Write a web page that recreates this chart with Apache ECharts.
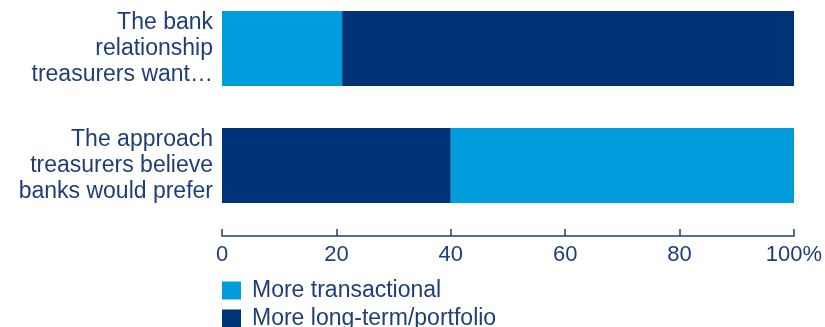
<!DOCTYPE html>
<html>
<head>
<meta charset="utf-8">
<style>
  html, body { margin: 0; padding: 0; background: #ffffff; }
  #chart { width: 825px; height: 327px; }
</style>
<script src="https://cdn.jsdelivr.net/npm/echarts@6/dist/echarts.min.js"></script>
</head>
<body>
<div id="chart"></div>
<script>
// Survey rows, top to bottom
const categories = [
  'The bank\nrelationship\ntreasurers want\u2026',
  'The approach\ntreasurers believe\nbanks would prefer'
];
// Share of respondents (%) per row
const transactional = [21, 60];
const longTerm = [79, 40];
// Segment order differs per row: first row starts with transactional,
// second row starts with long-term/portfolio.
const transactionalLead = [transactional[0], 0];
const transactionalTrail = [0, transactional[1]];
const tickValues = [0, 20, 40, 60, 80, 100];
const legendNames = ['More transactional', 'More long-term/portfolio'];

const LIGHT = '#009ddc';
const DARK = '#003478';
const INK = '#1f3e78';
const FONT = '"Liberation Sans", Arial, Helvetica, sans-serif';

const chart = echarts.init(document.getElementById('chart'), null, { renderer: 'canvas' });

const legendBase = {
  orient: 'vertical',
  left: 222,
  padding: 0,
  itemWidth: 19,
  itemHeight: 18,
  icon: 'rect',
  textStyle: { color: INK, fontSize: 23, fontFamily: FONT, padding: [0, 0, 0, 6] }
};

chart.setOption({
  animation: false,
  textStyle: { fontFamily: FONT },
  grid: { left: 222, right: 31, top: -10, height: 234, containLabel: false, outerBoundsMode: 'none' },
  xAxis: {
    type: 'value',
    min: tickValues[0],
    max: tickValues[tickValues.length - 1],
    interval: 20,
    offset: 12,
    splitLine: { show: false },
    axisLine: { show: true, lineStyle: { color: INK, width: 1.5 } },
    axisTick: { show: true, inside: true, length: 7, lineStyle: { color: INK, width: 1.5 } },
    axisLabel: {
      margin: 8,
      color: INK,
      fontSize: 22,
      fontFamily: FONT,
      formatter: v => (v === 100 ? '100%' : String(v))
    }
  },
  yAxis: {
    type: 'category',
    data: categories,
    inverse: true,
    axisLine: { show: false },
    axisTick: { show: false },
    splitLine: { show: false },
    axisLabel: {
      margin: 9,
      color: INK,
      fontSize: 23,
      lineHeight: 26,
      align: 'right',
      fontFamily: FONT
    }
  },
  legend: [
    Object.assign({}, legendBase, { top: 279, data: [legendNames[0]] }),
    Object.assign({}, legendBase, { top: 307, data: [legendNames[1]] })
  ],
  series: [
    {
      name: legendNames[0],
      type: 'bar',
      stack: 'total',
      barWidth: 75,
      itemStyle: { color: LIGHT },
      data: transactionalLead
    },
    {
      name: legendNames[1],
      type: 'bar',
      stack: 'total',
      barWidth: 75,
      itemStyle: { color: DARK },
      data: longTerm
    },
    {
      name: legendNames[0],
      type: 'bar',
      stack: 'total',
      barWidth: 75,
      itemStyle: { color: LIGHT },
      data: transactionalTrail
    }
  ]
});
</script>
</body>
</html>
